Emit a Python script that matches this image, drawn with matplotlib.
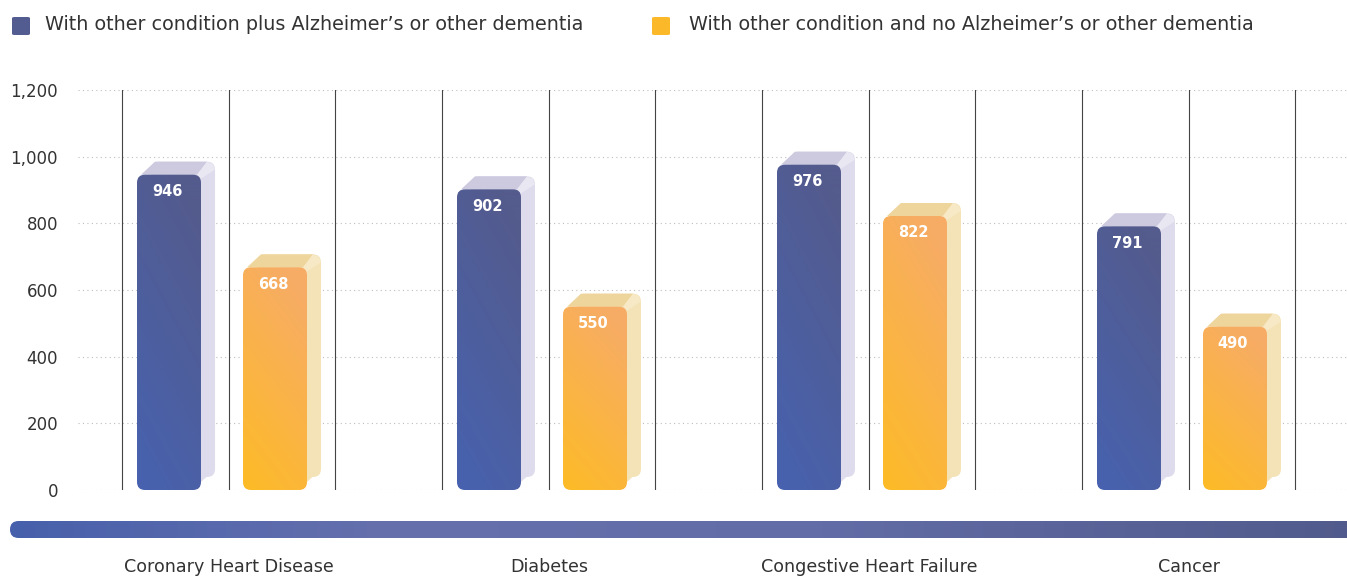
import numpy as np
import matplotlib
matplotlib.use("Agg")
import matplotlib.pyplot as plt
from matplotlib.patches import FancyBboxPatch, Polygon
from matplotlib.colors import to_rgb

categories = ["Coronary Heart Disease", "Diabetes", "Congestive Heart Failure", "Cancer"]
with_dementia = [946, 902, 976, 791]
without_dementia = [668, 550, 822, 490]
series_names = ["With other condition plus Alzheimer\u2019s or other dementia",
                "With other condition and no Alzheimer\u2019s or other dementia"]
yticks = [0, 200, 400, 600, 800, 1000, 1200]
ytick_labels = ["0", "200", "400", "600", "800", "1,000", "1,200"]

plt.rcParams['font.family'] = ["DejaVu Sans"]

W, H = 1347, 576
fig = plt.figure(figsize=(W / 100, H / 100), dpi=100)
ax = fig.add_axes([78 / W, 86 / H, (W - 78) / W, 400 / H])
ax.set_xlim(-0.4719, 3.4938)
ax.set_ylim(0, 1200)
for s in ax.spines.values():
    s.set_visible(False)
ax.set_xticks([])
ax.set_yticks(yticks)
ax.set_yticklabels(ytick_labels, fontsize=12, color="#333333")
ax.tick_params(axis="y", length=0, pad=14.4)
for t in yticks:
    ax.axhline(t, color="#bdbdbd", lw=0.8, ls=(0, (1, 3)), zorder=0)

px_x = 1 / 320.0   # data x per pixel
px_y = 3.0         # data y per pixel
dx, dy = 14 * px_x, 13 * px_y
bw = 64 * px_x
r = 8 * px_x
aspect = px_y / px_x

blue_top, blue_bot = np.array(to_rgb("#545b8d")), np.array(to_rgb("#4762b0"))
org_top, org_bot = np.array(to_rgb("#f7ac66")), np.array(to_rgb("#fdbb26"))


def grad_img(c_top, c_bot, n=64):
    yy, xx = np.mgrid[0:1:n * 1j, 0:1:n * 1j]  # yy=0 top row, 1 bottom row
    t = np.clip(0.8 * yy + 0.3 * (1 - xx) - 0.1, 0, 1)  # 1 -> bottom-left colour
    return c_top[None, None, :] * (1 - t[..., None]) + c_bot[None, None, :] * t[..., None]


def bar3d(x0, h, c_top, c_bot, side_c, topface_c, bevel_c):
    x1 = x0 + bw
    back = FancyBboxPatch((x0 + dx, dy), bw, h, boxstyle=f"round,pad=0,rounding_size={r}",
                          mutation_aspect=aspect, fc=side_c, ec="none", zorder=2)
    ax.add_patch(back)
    side = Polygon([(x1, 8 * px_y), (x1 + dx, dy + 8 * px_y), (x1 + dx, h + dy - r * aspect),
                    (x1, h - 0.5 * r * aspect)], closed=True, fc=side_c, ec="none", zorder=2)
    ax.add_patch(side)
    top = Polygon([(x0 + 0.5 * r, h), (x0 + 0.5 * r + dx, h + dy), (x1 + dx - r, h + dy),
                   (x1 - 0.5 * r, h)], closed=True, fc=topface_c, ec="none", zorder=2)
    ax.add_patch(top)
    bevel = Polygon([(x1 - 0.5 * r, h), (x1 + dx - r, h + dy), (x1 + dx - 0.3 * r, h + dy - 0.3 * r * aspect),
                     (x1 + dx, h + dy - r * aspect), (x1, h - 0.5 * r * aspect)],
                    closed=True, fc=bevel_c, ec="none", zorder=2)
    ax.add_patch(bevel)
    front = FancyBboxPatch((x0, 0), bw, h, boxstyle=f"round,pad=0,rounding_size={r}",
                           mutation_aspect=aspect, fc="none", ec="none", zorder=3)
    ax.add_patch(front)
    im = ax.imshow(grad_img(c_top, c_bot), extent=(x0, x1, 0, h), aspect="auto",
                   interpolation="bilinear", zorder=3)
    im.set_clip_path(front)
    ax.text(x0 + bw / 2 - 2 * px_x, h - 17 * px_y, f"{h:,}", color="white",
            fontsize=10.5, fontweight="bold", ha="center", va="center", zorder=4)


for i, cat in enumerate(categories):
    for off in (-0.334, 0.0, 0.331):
        ax.plot([i + off, i + off], [0, 1200], color="#444444", lw=0.8, zorder=1)
    bar3d(i - 0.2875, with_dementia[i], blue_top, blue_bot, "#dedcec", "#cdc9df", "#e9e7f2")
    bar3d(i + 0.04375, without_dementia[i], org_top, org_bot, "#f5e3b8", "#eed59c", "#f8e9c6")
    ax.text(i, -0.1925, cat, transform=ax.get_xaxis_transform(), ha="center", va="center",
            fontsize=12.6, color="#333333")

# horizontal gradient band (pixel-based axes)
bw_px = W - 10 + 20
bax = fig.add_axes([10 / W, (576 - 538) / H, bw_px / W, 17 / H])
bax.set_axis_off()
bax.set_xlim(0, bw_px)
bax.set_ylim(0, 17)
stops = [(0.0, "#4760ab"), (0.28, "#6670ad"), (0.6, "#626ca6"), (1.0, "#515a8b")]
xs = np.linspace(0, 1, 400)
cols = np.array([[np.interp(x, [s[0] for s in stops], [to_rgb(s[1])[k] for s in stops])
                  for k in range(3)] for x in xs])
band_clip = FancyBboxPatch((0, 0), bw_px, 17, boxstyle="round,pad=0,rounding_size=8.5",
                           fc="none", ec="none", transform=bax.transData)
bax.add_patch(band_clip)
bim = bax.imshow(cols[None, :, :], extent=(0, bw_px, 0, 17), aspect="auto", interpolation="bilinear")
bim.set_clip_path(band_clip)

# legend
for (lx, tx, col, name) in [(12, 45, "#525c91", series_names[0]),
                            (652, 689, "#fbb929", series_names[1])]:
    sq = FancyBboxPatch((lx / W, (576 - 35) / H), 18 / W, 18 / H,
                        boxstyle="round,pad=0,rounding_size=0.002",
                        transform=fig.transFigure, fc=col, ec="none")
    fig.patches.append(sq)
    fig.text(tx / W, (576 - 25) / H, name, fontsize=13.8, color="#333333", ha="left", va="center")

fig.savefig("out.png", dpi=100)
